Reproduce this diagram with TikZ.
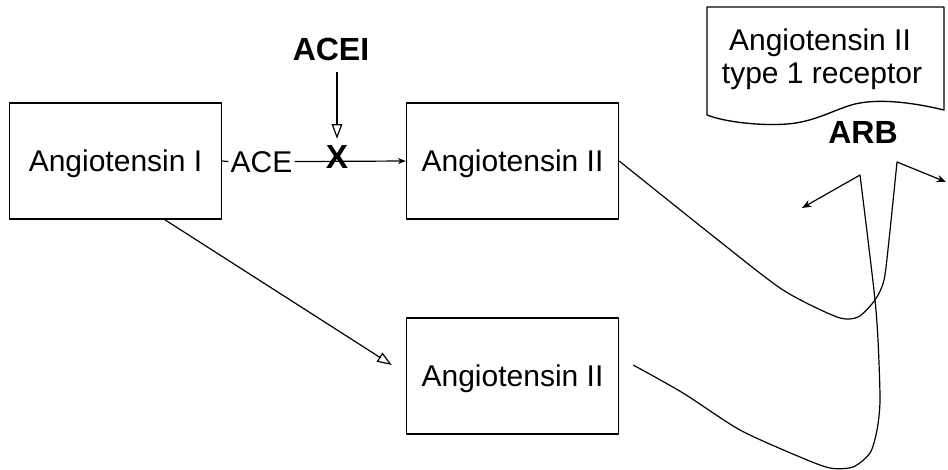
\documentclass[tikz,border=0pt]{standalone}
\usepackage{fontspec}
\setmainfont{Liberation Sans}
\usetikzlibrary{arrows.meta,calc}
\begin{document}
\begin{tikzpicture}[x=0.75pt,y=-0.75pt,
  line join=round,
  box/.style={draw,line width=1pt,minimum width=159pt,minimum height=87pt,
    inner sep=0pt,text depth=0pt,font=\fontsize{22.5}{27}\selectfont},
  lbl/.style={inner sep=1.5pt,text depth=0pt,font=\fontsize{22.5}{27}\selectfont},
  blbl/.style={inner sep=1.5pt,text depth=0pt,font=\bfseries\fontsize{24}{28}\selectfont},
  conn/.style={line width=0.9pt},
  solidtip/.style={-{Stealth[length=7pt,width=5.5pt]}},
  opentip/.style={-{Triangle[open,length=11pt,width=8pt]}}
]
\useasboundingbox (0,0) rectangle (948,469);

% pathway boxes
\node[box] (a1) at (115.5,161) {Angiotensin I};
\node[box] (a2) at (512.5,161) {Angiotensin II};
\node[box] (a3) at (512.5,376) {Angiotensin II};

% ACE conversion step, blocked by ACEI
\node[lbl,anchor=base] (ace) at (261.5,172) {ACE};
\node[blbl,anchor=base] (acei) at (331,60) {ACEI};
\node[inner sep=0pt,text depth=0pt,font=\bfseries\fontsize{25}{28}\selectfont,anchor=base] (xmark) at (337,168) {X};

\draw[conn] (a1.east) -- (ace.west);
\draw[conn,-{Stealth[length=6pt,width=4.5pt]}] (ace.east) -- (a2.west);
\coordinate (aceitail) at (337,72);
\draw[conn,opentip] (aceitail) -- ([yshift=4.5pt]xmark.north);

% alternative route to angiotensin II
\draw[conn,opentip] (a1.-50.7) -- ([shift={(-14,-11)}]a3.west);

% receptor callout
\draw[line width=1pt] (707,115) -- (707,7) -- (944,7) -- (944,110)
  .. controls (915,103) and (880,98) .. (855,104)
  .. controls (835,109) and (815,122) .. (787,124)
  .. controls (760,126) and (725,122) .. (707,115);
\node[lbl,anchor=base] (rec1) at (820,50) {Angiotensin II};
\node[lbl,anchor=base] (rec2) at (822,83) {type 1 receptor};
\node[blbl,anchor=base] (arb) at (863,143) {ARB};

% angiotensin II binding to the receptor
\coordinate (r1) at (946,182);
\coordinate (r2) at (802,208);
\coordinate (b0) at ([shift={(14,-11)}]a3.east);
\draw[conn,solidtip] plot[smooth,tension=0.45] coordinates
  {(a2.east) (718,240) (783,290) (837,317) (858,317) (875,300) (884,280) (889,240) (897,162)}
  -- (r1);
\draw[conn,solidtip] plot[smooth,tension=0.45] coordinates
  {(b0) (683,393) (740,430) (800,457) (830,468) (853,467) (870,453) (877,430) (880,400)
   (878,340) (875,300) (868,240) (860,175)}
  -- (r2);
\end{tikzpicture}
\end{document}
